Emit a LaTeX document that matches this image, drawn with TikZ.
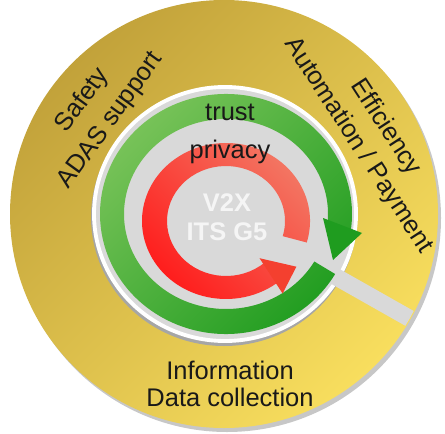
\documentclass[tikz,border=0pt]{standalone}
\usepackage{fontspec}
\setmainfont{Liberation Sans}
\usetikzlibrary{calc}
\definecolor{goldDark}{HTML}{C2A23A}
\definecolor{goldLight}{HTML}{F8DE5E}
\definecolor{discGrey}{HTML}{D9D9D9}
\definecolor{greenLight}{HTML}{7DC55C}
\definecolor{greenDark}{HTML}{1F9C1F}
\definecolor{redLight}{HTML}{F27A66}
\definecolor{redDark}{HTML}{FF1A1A}
\definecolor{redHead}{HTML}{F4402F}
\begin{document}
\begin{tikzpicture}[x=0.02cm,y=0.02cm,
	ringtext/.style={align=center,text=black!90},
	bigfont/.style={font=\fontsize{14.5}{#1}\selectfont}]
	\useasboundingbox (0,0) rectangle (445,433);
	\coordinate (oc) at (224,219);%centre gold
	\coordinate (dc) at (225,219);%centre disc
	\coordinate (gc) at (226,219);%centre green ring
	\coordinate (rc) at (226,212);%centre red ring

	\fill[black!22] (227,215) circle (214);%shadow
	\shade[top color=goldDark,bottom color=goldLight,shading angle=45] (oc) circle (214);%gold ring
	\fill[black!35] (224,216) ellipse [x radius=133,y radius=129];%disc shadow
	\fill[discGrey,draw=white,line width=2.2pt] (dc) ellipse [x radius=131,y radius=127];%grey disc

	\begin{scope}
		\clip (oc) circle (213);
		\fill[discGrey,shift={(dc)},rotate=-29.5] (92,-8.5) rectangle (240,8.5);%bar
	\end{scope}

	%green arrow (clockwise)
	\shade[top color=greenLight,bottom color=greenDark,shading angle=45]
		($(gc)+(-30:126 and 120)$) arc[start angle=-30,end angle=-370,x radius=126,y radius=120]
		-- ($(gc)+(-370:102 and 95)$) arc[start angle=-370,end angle=-30,x radius=102,y radius=95] -- cycle;
	\fill[greenDark] (323,215) -- (362,200) -- (333,173) -- cycle;%green head

	%red arrow (counterclockwise)
	\shade[top color=redLight,bottom color=redDark,shading angle=-45]
		($(rc)+(-16:84 and 78)$) arc[start angle=-16,end angle=311,x radius=84,y radius=78]
		-- ($(rc)+(311:59 and 55)$) arc[start angle=311,end angle=-16,x radius=59,y radius=55] -- cycle;
	\fill[redHead] (259.5,174.8) -- (282.6,139.5) -- (296.4,166.3) -- cycle;%red head

	\node[ringtext,bigfont=17] (trust) at (230,321) {trust};
	\node[ringtext,bigfont=17] (privacy) at (230,281) {privacy};
	\node[align=center,text=white!96!black,font=\bfseries\fontsize{14.5}{16.5}\selectfont] (v2x) at (227,215.5) {V2X\\ITS G5};

	\node[ringtext,bigfont=19.5,rotate=54] (safety) at (96.5,322.5) {Safety\\ADAS support};
	\node[ringtext,bigfont=18.7,rotate=-57] (efficiency) at (372,296.5) {Efficiency\\Automation / Payment};
	\node[ringtext,bigfont=15.3] (information) at (230,49) {Information\\Data collection};
\end{tikzpicture}
\end{document}
